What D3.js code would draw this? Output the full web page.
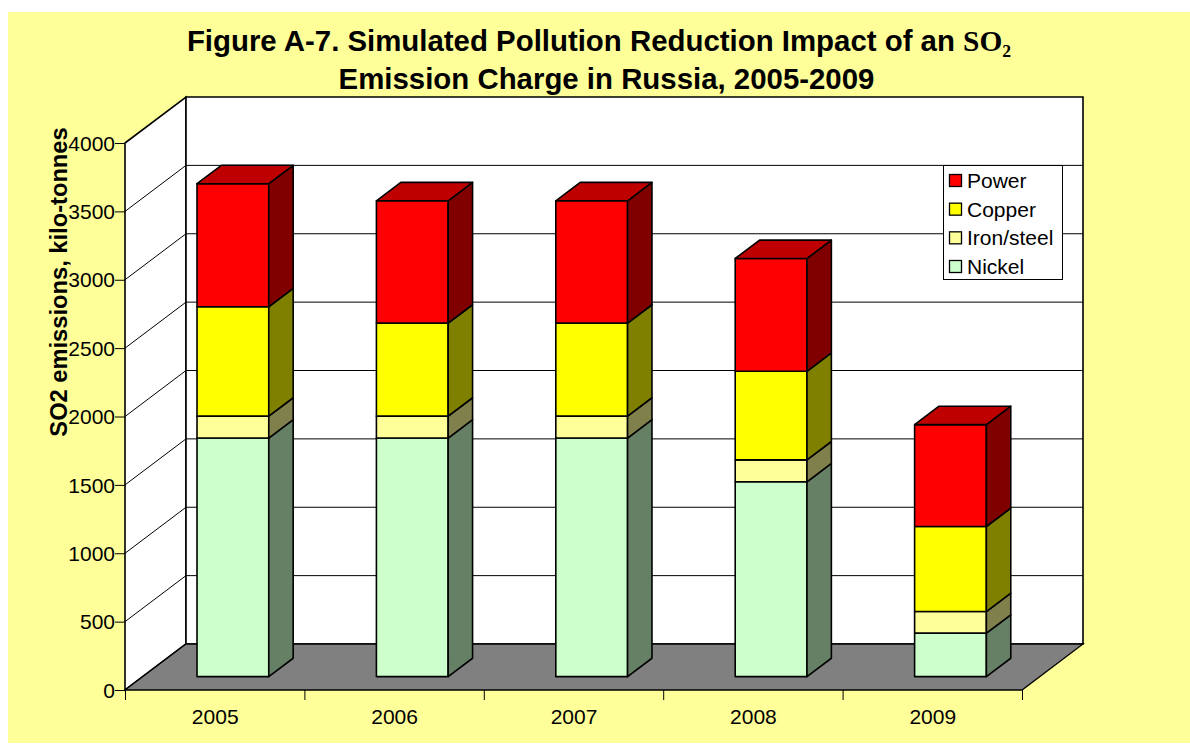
<!DOCTYPE html>
<html>
<head>
<meta charset="utf-8">
<script src="https://cdn.jsdelivr.net/npm/d3@7"></script>
<style>
  html, body { margin: 0; padding: 0; background: #fff; }
  svg { display: block; }
  text { font-family: "Liberation Sans", Arial, sans-serif; fill: #000; }
</style>
</head>
<body>
<svg id="chart" width="1190" height="744"></svg>
<script>
// Stacked SO2 emissions by source, kilo-tonnes
const years = ["2005", "2006", "2007", "2008", "2009"];
const nickel = [1745, 1745, 1745, 1425, 318];
const ironSteel = [160, 160, 160, 160, 158];
const copper = [800, 680, 680, 648, 622];
const power = [900, 895, 895, 825, 745];

const seriesNames = ["Nickel", "Iron/steel", "Copper", "Power"];
const seriesValues = [nickel, ironSteel, copper, power];
const faceColors = ["#CCFFCC", "#FFFF99", "#FFFF00", "#FF0000"];
const sideColors = ["#668066", "#80804D", "#808000", "#800000"];
const topColors = ["#99BF99", "#BFBF73", "#BFBF00", "#BF0000"];
const yTicks = [0, 500, 1000, 1500, 2000, 2500, 3000, 3500, 4000];

const svg = d3.select("#chart");

// Oblique projection: the back wall sits up and to the right of the front plane
const depthX = 61, depthY = -46;
const barNear = 0.29, barFar = 0.69;
const x = d3.scaleBand().domain(years).range([125.5, 1022.5]).paddingInner(0.6).paddingOuter(0.3);
const xBoundary = d3.scaleLinear().domain([0, years.length]).range([125, 1022]);
const y = d3.scaleLinear().domain([0, 4000]).range([690, 143]);
const project = (px, py, d) => [px + depthX * d, py + depthY * d];
const polyPath = pts => "M" + pts.map(p => p.join(",")).join("L") + "Z";

// Chart area background
svg.append("rect").attr("x", 8).attr("y", 12).attr("width", 1182).attr("height", 731).attr("fill", "#FFFF99");

const x0 = 125, x1 = 1022, yBase = y(0), yTop = y(4000);

// Side wall, back wall and floor
const walls = svg.append("g").attr("stroke", "#000").attr("stroke-width", 1.6).attr("stroke-linejoin", "miter");
walls.append("path").attr("fill", "#fff").attr("d", polyPath([
  [x0, yBase], [x0, yTop], project(x0, yTop, 1), project(x0, yBase, 1)]));
walls.append("path").attr("fill", "#fff").attr("d", polyPath([
  project(x0, yBase, 1), project(x0, yTop, 1), project(x1, yTop, 1), project(x1, yBase, 1)]));
walls.append("path").attr("fill", "#808080").attr("stroke-width", 1.3).attr("d", polyPath([
  [x0, yBase], project(x0, yBase, 1), project(x1, yBase, 1), [x1, yBase]]));

// Gridlines run along the side wall and across the back wall
const grid = svg.append("g").attr("fill", "none").attr("stroke", "#000").attr("stroke-width", 1);
yTicks.filter(t => t > 0 && t < 4000).forEach(t => {
  const yy = y(t), b = project(x0, yy, 1), e = project(x1, yy, 1);
  grid.append("path").attr("d", `M${x0},${yy}L${b[0]},${b[1]}L${e[0]},${e[1]}`);
});

// Value axis
const yAxis = svg.append("g").attr("transform", `translate(${x0},0)`)
  .call(d3.axisLeft(y).tickValues(yTicks).tickSize(10).tickPadding(0).tickFormat(d3.format("d")));
yAxis.select(".domain").remove();
yAxis.selectAll("line").attr("stroke", "#000").attr("stroke-width", 1);
yAxis.selectAll("text").attr("font-size", 21).attr("dy", "0.34em").style("font-family", '"Liberation Sans", Arial, sans-serif');

// Category axis: ticks on the band boundaries, labels in the band centres
const xTicks = svg.append("g").attr("transform", `translate(0,${yBase})`)
  .call(d3.axisBottom(xBoundary).tickValues(d3.range(years.length + 1)).tickSize(10).tickFormat(""));
xTicks.select(".domain").remove();
xTicks.selectAll("line").attr("stroke", "#000").attr("stroke-width", 1);

const xLabels = svg.append("g").attr("transform", `translate(0,${yBase})`)
  .call(d3.axisBottom(d3.scalePoint().domain(years).range([xBoundary(0.5), xBoundary(4.5)])).tickSize(0).tickPadding(19));
xLabels.select(".domain").remove();
xLabels.selectAll("text").attr("font-size", 21).style("font-family", '"Liberation Sans", Arial, sans-serif');

// Stacked 3D columns
const stacked = d3.stack().keys(d3.range(seriesNames.length)).value((row, k) => seriesValues[k][row])(d3.range(years.length));
const bars = svg.append("g").attr("stroke", "#000").attr("stroke-width", 1.6).attr("stroke-linejoin", "round");
years.forEach((yr, i) => {
  const left = x(yr), right = left + x.bandwidth();
  stacked.forEach((layer, k) => {
    const lo = y(layer[i][0]), hi = y(layer[i][1]);
    const a = project(left, lo, barNear), b = project(right, lo, barNear);
    const c = project(right, hi, barNear), d = project(left, hi, barNear);
    const bFar = project(right, lo, barFar), cFar = project(right, hi, barFar), dFar = project(left, hi, barFar);
    bars.append("path").attr("fill", faceColors[k]).attr("d", polyPath([a, b, c, d]));
    bars.append("path").attr("fill", sideColors[k]).attr("d", polyPath([b, bFar, cFar, c]));
    if (k === stacked.length - 1) {
      bars.append("path").attr("fill", topColors[k]).attr("d", polyPath([d, c, cFar, dFar]));
    }
  });
});

// Legend
const legend = svg.append("g");
legend.append("rect").attr("x", 943.5).attr("y", 165.5).attr("width", 119).attr("height", 114)
  .attr("fill", "#fff").attr("stroke", "#000").attr("stroke-width", 1);
const legendOrder = [3, 2, 1, 0];
const legendY = d3.scalePoint().domain(legendOrder).range([181, 267]);
legendOrder.forEach(k => {
  const cy = legendY(k);
  legend.append("rect").attr("x", 949.5).attr("y", cy - 6.5).attr("width", 12).attr("height", 12)
    .attr("fill", faceColors[k]).attr("stroke", "#000").attr("stroke-width", 1.3);
  legend.append("text").attr("x", 967).attr("y", cy + 7).attr("font-size", 21).text(seriesNames[k]);
});

// Titles
const title = svg.append("g").attr("text-anchor", "middle").attr("font-weight", "bold").attr("font-size", 29.4);
const line1 = title.append("text").attr("x", 599).attr("y", 51);
line1.append("tspan").text("Figure A-7. Simulated Pollution Reduction Impact of an ");
line1.append("tspan").style("font-family", '"Liberation Serif", "Times New Roman", serif').text("SO₂");
title.append("text").attr("x", 606.5).attr("y", 88.5).text("Emission Charge in Russia, 2005-2009");

svg.append("text").attr("transform", "translate(67,282) rotate(-90)")
  .attr("text-anchor", "middle").attr("font-weight", "bold").attr("font-size", 23.7)
  .text("SO2 emissions, kilo-tonnes");
</script>
</body>
</html>
